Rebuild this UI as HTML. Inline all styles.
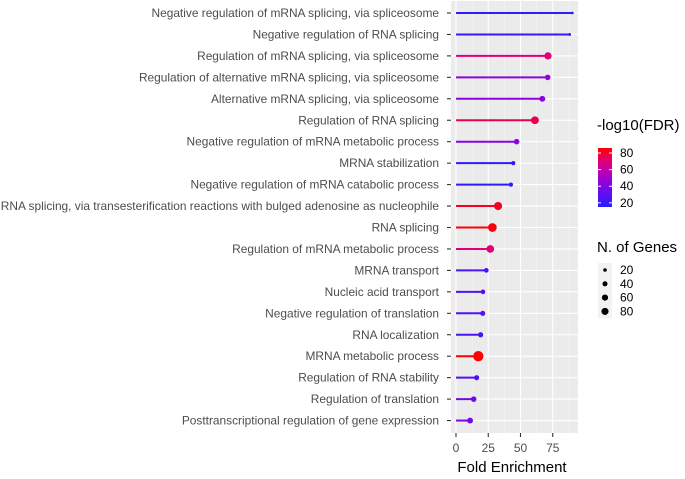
<!DOCTYPE html>
<html><head><meta charset="utf-8"><style>
body{margin:0;background:#fff;font-family:"Liberation Sans",sans-serif}
svg text{font-family:"Liberation Sans",sans-serif}
</style></head><body>
<svg id="c" width="685" height="474"></svg>
<script>
const terms=["Negative regulation of mRNA splicing, via spliceosome","Negative regulation of RNA splicing","Regulation of mRNA splicing, via spliceosome","Regulation of alternative mRNA splicing, via spliceosome","Alternative mRNA splicing, via spliceosome","Regulation of RNA splicing","Negative regulation of mRNA metabolic process","MRNA stabilization","Negative regulation of mRNA catabolic process","RNA splicing, via transesterification reactions with bulged adenosine as nucleophile","RNA splicing","Regulation of mRNA metabolic process","MRNA transport","Nucleic acid transport","Negative regulation of translation","RNA localization","MRNA metabolic process","Regulation of RNA stability","Regulation of translation","Posttranscriptional regulation of gene expression"];
const foldEnrichment=[90.2,88.1,71.3,71.1,66.9,61.2,47,44.4,42.6,32.6,28.2,26.6,23.5,20.9,20.7,19.1,17.3,16,13.7,10.9];
const negLog10FDR=[17,19,70,45,45,75,42,17,17,82,84,70,25,27,27,25,86,27,36,38];
const nGenes=[8,9,60,35,40,70,35,20,20,75,85,65,25,25,30,30,120,30,35,40];
const xTicks=[0,25,50,75];
const colorTicks=[20,40,60,80];
const sizeTicks=[20,40,60,80];

const NS="http://www.w3.org/2000/svg";
const svg=document.getElementById('c');
function mk(t,a,p){const e=document.createElementNS(NS,t);for(const k in a)e.setAttribute(k,a[k]);(p||svg).appendChild(e);return e;}
const PL=451,PR=578,PT=1,PB=433;
const x=v=>456+v*1.29;
const y=i=>13+i*21.45;
const cmin=15,cmax=86;
const stops=[[0,[40,30,255]],[0.45,[150,0,220]],[0.75,[220,0,130]],[1,[255,0,0]]];
function col(v){let t=Math.max(0,Math.min(1,(v-cmin)/(cmax-cmin)));for(let i=1;i<stops.length;i++){if(t<=stops[i][0]){const a=stops[i-1],b=stops[i];const f=(t-a[0])/(b[0]-a[0]);const c=a[1].map((q,j)=>Math.round(q+(b[1][j]-q)*f));return `rgb(${c})`;}}return 'rgb(255,0,0)';}
const r=n=>0.47*Math.sqrt(n);

const panel=mk('rect',{x:PL,y:PT,width:PR-PL,height:PB-PT,fill:'#ebebeb'});

const grid=mk('g',{});
[12.5,37.5,62.5,87.5].forEach(v=>mk('line',{x1:x(v),x2:x(v),y1:PT,y2:PB,stroke:'#f5f5f5','stroke-width':0.6},grid));
xTicks.forEach(v=>mk('line',{x1:x(v),x2:x(v),y1:PT,y2:PB,stroke:'#fff','stroke-width':1.1},grid));
terms.forEach((t,i)=>mk('line',{x1:PL,x2:PR,y1:y(i),y2:y(i),stroke:'#fff','stroke-width':1.1},grid));

terms.forEach((t,i)=>{
  const lab=mk('text',{x:439,y:y(i)+4,'text-anchor':'end','font-size':11.9,fill:'#4d4d4d'});lab.textContent=t;
  
  mk('line',{x1:447,x2:451,y1:y(i),y2:y(i),stroke:'#333','stroke-width':1.1});
  const c=col(negLog10FDR[i]);
  const seg=mk('line',{x1:x(0),x2:x(foldEnrichment[i]),y1:y(i),y2:y(i),stroke:c,'stroke-width':2});
  
  const dot=mk('circle',{cx:x(foldEnrichment[i]),cy:y(i),r:r(nGenes[i]),fill:c});
  
});
xTicks.forEach(v=>{
  mk('line',{x1:x(v),x2:x(v),y1:PB,y2:PB+4,stroke:'#333','stroke-width':1.1});
  const t=mk('text',{x:x(v),y:452,'text-anchor':'middle','font-size':12,fill:'#4d4d4d'});t.textContent=v;
  
});
const xt=mk('text',{x:512,y:472,'text-anchor':'middle','font-size':15,fill:'#000'});xt.textContent='Fold Enrichment';


// color legend
const cl=mk('g',{});
const ct=mk('text',{x:597,y:130,'font-size':15,fill:'#000'},cl);ct.textContent='-log10(FDR)';
const defs=mk('defs',{});const lg=mk('linearGradient',{id:'g',x1:0,y1:1,x2:0,y2:0},defs);
for(let k=0;k<=10;k++)mk('stop',{offset:k/10,'stop-color':col(cmin+(cmax-cmin)*k/10)},lg);
mk('rect',{x:598,y:148,width:14,height:59,fill:'url(#g)'},cl);
const cy=v=>207-(v-cmin)*59/(cmax-cmin);
colorTicks.forEach(v=>{mk('line',{x1:598,x2:601,y1:cy(v),y2:cy(v),stroke:'#fff'},cl);mk('line',{x1:609,x2:612,y1:cy(v),y2:cy(v),stroke:'#fff'},cl);
 const t=mk('text',{x:620,y:cy(v)+4,'font-size':12,fill:'#000'},cl);t.textContent=v;});

// size legend
const sl=mk('g',{});
const st=mk('text',{x:597,y:252,'font-size':15,fill:'#000'},sl);st.textContent='N. of Genes';
sizeTicks.forEach((v,k)=>{const yy=270+k*13.8;
 mk('rect',{x:598,y:yy-7,width:14,height:14,fill:'#f2f2f2'},sl);
 mk('circle',{cx:605,cy:yy,r:r(v)*0.85,fill:'#000'},sl);
 const t=mk('text',{x:620,y:yy+4,'font-size':12,fill:'#000'},sl);t.textContent=v;});
</script>
</body></html>
